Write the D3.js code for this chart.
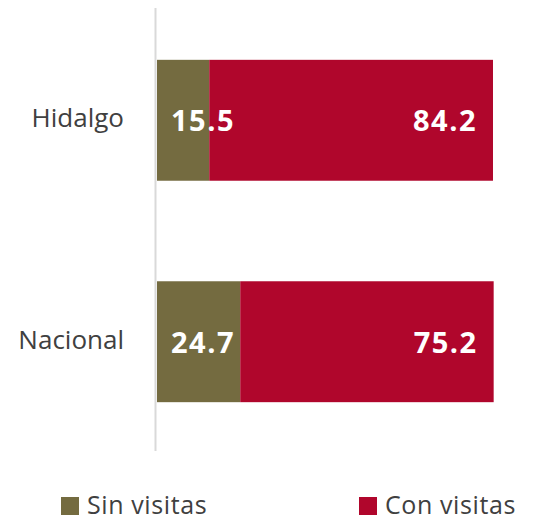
<!DOCTYPE html>
<html>
<head>
<meta charset="utf-8">
<script src="https://cdn.jsdelivr.net/npm/d3@7"></script>
<style>
  html, body { margin: 0; padding: 0; background: #fff; }
  svg { display: block; font-family: "Open Sans", "Noto Sans", sans-serif; }
</style>
</head>
<body>
<svg id="chart" width="533" height="521"></svg>
<script>
// Categories, series and values
const categories = ["Hidalgo", "Nacional"];
const seriesNames = ["Sin visitas", "Con visitas"];
const sinVisitas = [15.5, 24.7];
const conVisitas = [84.2, 75.2];
const seriesColors = ["#746b40", "#b0062c"];

const rows = categories.map((c, i) => ({
  category: c,
  "Sin visitas": sinVisitas[i],
  "Con visitas": conVisitas[i]
}));

const svg = d3.select("#chart");

const x = d3.scaleLinear().domain([0, 100]).range([157, 494]);
const y = d3.scaleBand().domain(categories).range([10, 452])
  .paddingInner(0.454).paddingOuter(0.225);

const stack = d3.stack().keys(seriesNames)(rows);

// Vertical category axis line
svg.append("line")
  .attr("x1", 155.5).attr("x2", 155.5)
  .attr("y1", 8).attr("y2", 451)
  .attr("stroke", "#d9d9d9").attr("stroke-width", 2);

// Stacked bars
const layers = svg.append("g").selectAll("g").data(stack).join("g")
  .attr("fill", (d, i) => seriesColors[i]);

layers.selectAll("rect").data(d => d).join("rect")
  .attr("x", d => x(d[0]))
  .attr("y", d => y(d.data.category))
  .attr("width", d => x(d[1]) - x(d[0]))
  .attr("height", y.bandwidth());

// Value labels: first series anchored at bar start, second at bar end
stack.forEach((layer, i) => {
  svg.append("g").selectAll("text").data(layer).join("text")
    .attr("x", d => i === 0 ? x(d[0]) + 14 : x(d[1]) - 16)
    .attr("y", d => y(d.data.category) + y.bandwidth() / 2 + 11)
    .attr("text-anchor", i === 0 ? "start" : "end")
    .attr("fill", "#fff")
    .attr("font-weight", "bold")
    .attr("font-size", 29)
    .attr("letter-spacing", 1.5)
    .text(d => (d[1] - d[0]).toFixed(1));
});

// Category labels
svg.append("g").selectAll("text").data(categories).join("text")
  .attr("x", 124)
  .attr("y", d => y(d) + y.bandwidth() / 2 + 7)
  .attr("text-anchor", "end")
  .attr("fill", "#404040")
  .attr("font-size", 26)
  .text(d => d);

// Legend
const legendX = [61, 359];
const legend = svg.append("g").selectAll("g").data(seriesNames).join("g")
  .attr("transform", (d, i) => `translate(${legendX[i]},497)`);
legend.append("rect").attr("width", 18).attr("height", 18)
  .attr("fill", (d, i) => seriesColors[i]);
legend.append("text").attr("x", 26).attr("y", 17)
  .attr("fill", "#404040").attr("font-size", 25)
  .attr("letter-spacing", 0.6)
  .text(d => d);
</script>
</body>
</html>
